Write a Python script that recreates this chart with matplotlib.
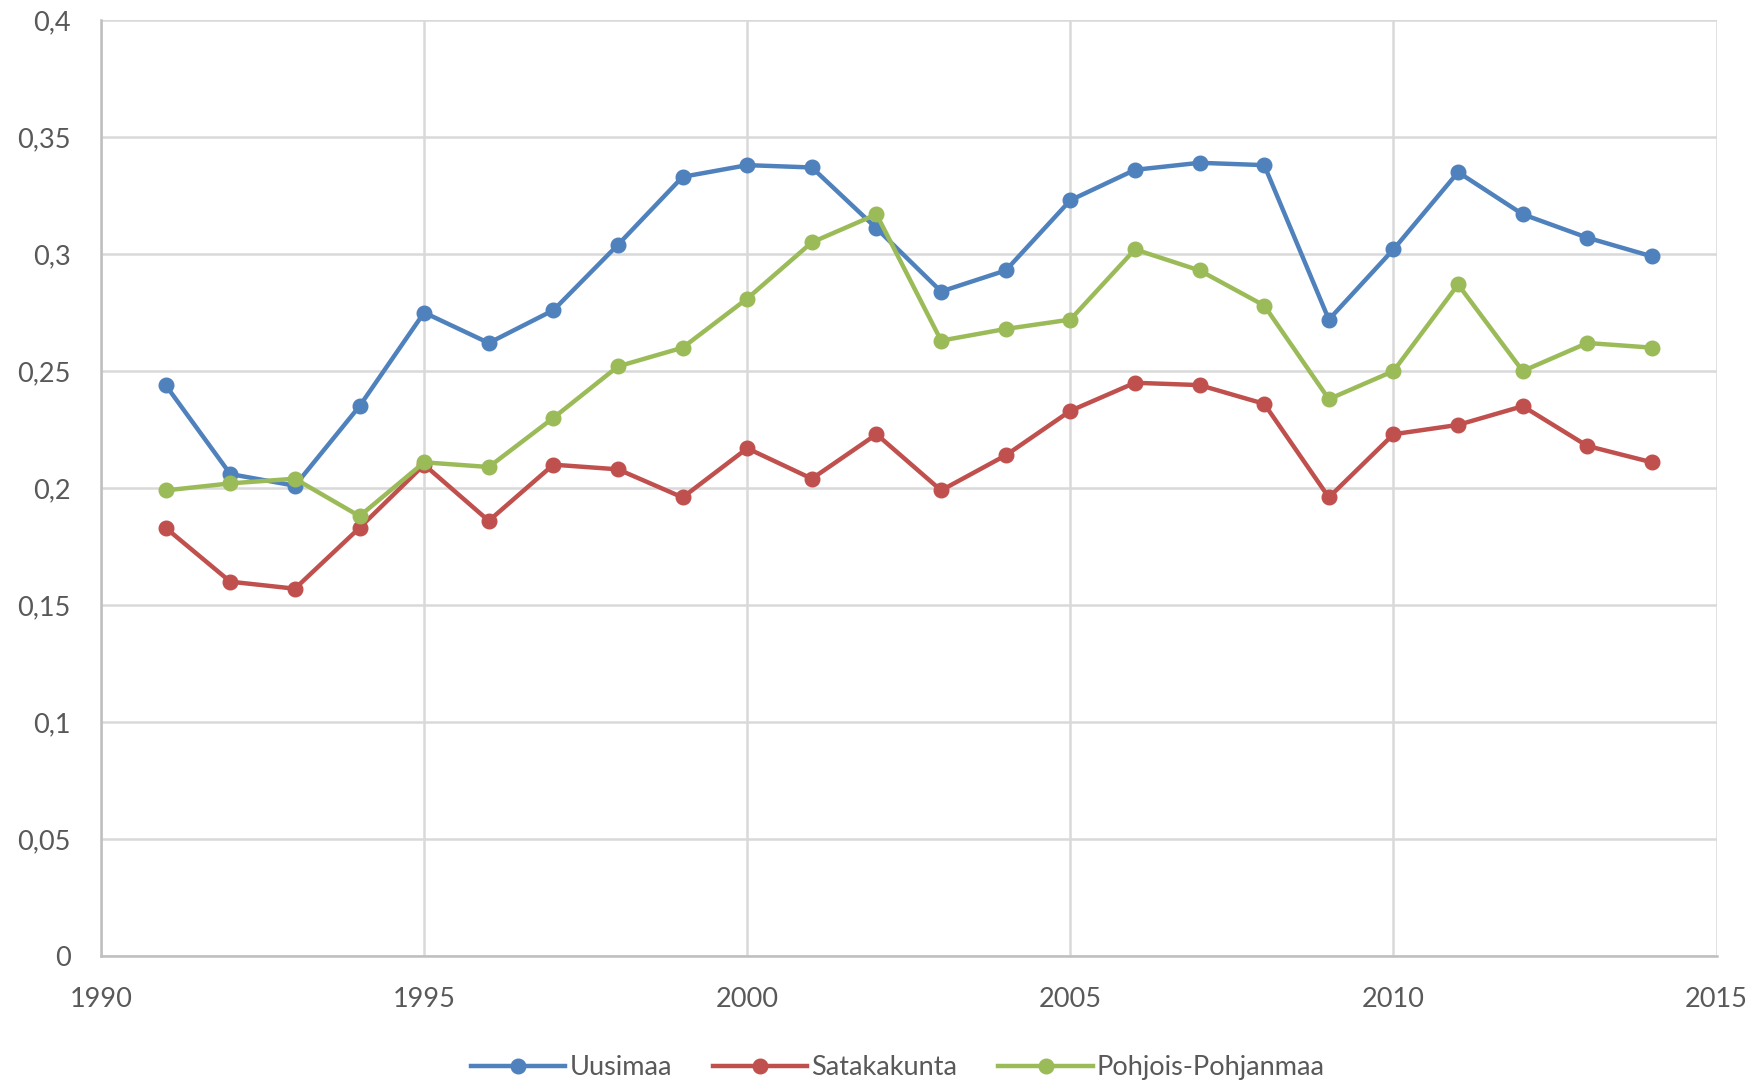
import matplotlib
matplotlib.use("Agg")
import matplotlib.pyplot as plt
from matplotlib.ticker import FuncFormatter

years = list(range(1991, 2015))

uusimaa = [0.244, 0.206, 0.201, 0.235, 0.275, 0.262, 0.276, 0.304, 0.333, 0.338,
           0.337, 0.311, 0.284, 0.293, 0.323, 0.336, 0.339, 0.338, 0.272, 0.302,
           0.335, 0.317, 0.307, 0.299]
satakunta = [0.183, 0.160, 0.157, 0.183, 0.210, 0.186, 0.210, 0.208, 0.196, 0.217,
             0.204, 0.223, 0.199, 0.214, 0.233, 0.245, 0.244, 0.236, 0.196, 0.223,
             0.227, 0.235, 0.218, 0.211]
pohjois = [0.199, 0.202, 0.204, 0.188, 0.211, 0.209, 0.230, 0.252, 0.260, 0.281,
           0.305, 0.317, 0.263, 0.268, 0.272, 0.302, 0.293, 0.278, 0.238, 0.250,
           0.287, 0.250, 0.262, 0.260]

series = [("Uusimaa", uusimaa, "#4f81bd"),
          ("Satakakunta", satakunta, "#c0504d"),
          ("Pohjois-Pohjanmaa", pohjois, "#9bbb59")]

plt.rcParams['font.family'] = ['Lato', 'DejaVu Sans']
text_col = '#595959'
grid_col = '#d9d9d9'

fig = plt.figure(figsize=(17.57, 10.84), dpi=100)
ax = fig.add_axes([0.0575, 0.118, 0.9195, 0.8635])

for name, vals, col in series:
    ax.plot(years, vals, color=col, linewidth=3.2, marker='o', markersize=10.5,
            label=name, solid_joinstyle='round')

ax.set_xlim(1990, 2015)
ax.set_ylim(0, 0.4)
ax.set_xticks(range(1990, 2016, 5))
ax.set_yticks([i * 0.05 for i in range(9)])
ax.yaxis.set_major_formatter(FuncFormatter(lambda v, p: ('%g' % round(v, 2)).replace('.', ',')))

ax.grid(True, color=grid_col, linewidth=1.8)
ax.set_axisbelow(True)
for s in ['top', 'right']:
    ax.spines[s].set_visible(False)
for s in ['left', 'bottom']:
    ax.spines[s].set_color('#bfbfbf')
    ax.spines[s].set_linewidth(1.8)
ax.tick_params(length=0, labelsize=19.5, colors=text_col)
ax.tick_params(axis='y', pad=22)
ax.tick_params(axis='x', pad=22)

leg = fig.legend(loc='center', bbox_to_anchor=(0.511, 0.015), ncol=3, frameon=False,
                 fontsize=19.5, handlelength=3.5, columnspacing=1.5, handletextpad=0.15,
                 labelcolor=text_col)

fig.savefig("out.png", dpi=100)
